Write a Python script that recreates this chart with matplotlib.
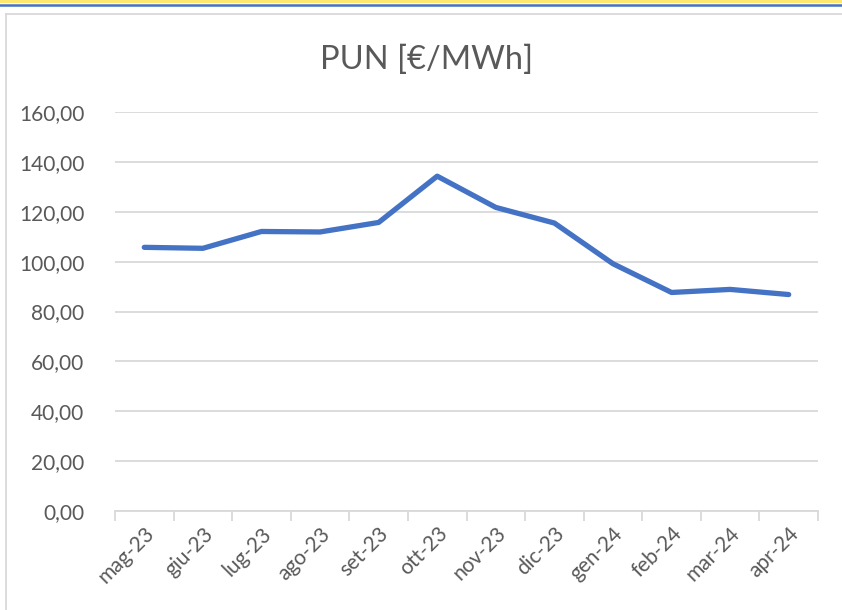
import matplotlib
matplotlib.use("Agg")
import matplotlib.pyplot as plt
from matplotlib.lines import Line2D

# ---- data ------------------------------------------------------------------
months = ["mag-23", "giu-23", "lug-23", "ago-23", "set-23", "ott-23",
          "nov-23", "dic-23", "gen-24", "feb-24", "mar-24", "apr-24"]
pun = [105.73, 105.34, 112.09, 111.89, 115.71, 134.27,
       121.74, 115.47, 99.16, 87.63, 88.86, 86.80]
yticks = [0, 20, 40, 60, 80, 100, 120, 140, 160]

# ---- style -----------------------------------------------------------------
LINE = "#4472C4"
GRID = "#D9D9D9"
TXT = "#595959"
plt.rcParams["font.family"] = ["Lato", "DejaVu Sans"]

W, H = 842, 610
fig = plt.figure(figsize=(W / 100, H / 100), dpi=100)
fig.patch.set_facecolor("white")

def fx(px):
    return px / W

def fy(py):
    return 1 - py / H

# decorative bands on top + chart frame
fig.add_artist(Line2D([0, 1], [fy(1), fy(1)], color="#FFE66E", lw=2.2))
fig.add_artist(Line2D([0, 1], [fy(5), fy(5)], color=LINE, lw=1.8))
fig.add_artist(Line2D([fx(6), 1], [fy(14), fy(14)], color="#D9D9D9", lw=1.3))
fig.add_artist(Line2D([fx(6), fx(6)], [fy(14), 0], color="#D9D9D9", lw=1.3))

ax = fig.add_axes([fx(115), fy(511), fx(818) - fx(115), fy(112) - fy(511)])
x = list(range(len(months)))
ax.plot(x, pun, color=LINE, lw=3.8, solid_capstyle="round",
        solid_joinstyle="round", zorder=3)

ax.set_xlim(-0.5, len(months) - 0.5)
ax.set_ylim(0, 160)
ax.set_yticks(yticks)
ax.set_yticklabels([f"{v:.2f}".replace(".", ",") for v in yticks],
                   fontsize=15, color=TXT)
ax.tick_params(axis="y", length=0, pad=22)
ax.yaxis.grid(True, color=GRID, lw=1.3)
ax.set_axisbelow(True)

# category labels at centres, tick marks at boundaries
ax.set_xticks(x)
ax.set_xticklabels(months, rotation=45, ha="right", rotation_mode="anchor",
                   fontsize=15, color=TXT)
ax.tick_params(axis="x", which="major", length=0, pad=9)
ax.set_xticks([i - 0.5 for i in range(len(months) + 1)], minor=True)
ax.tick_params(axis="x", which="minor", length=7, color=GRID, width=1.3)

for s in ("top", "right", "left"):
    ax.spines[s].set_visible(False)
ax.spines["bottom"].set_color(GRID)
ax.spines["bottom"].set_linewidth(1.3)

fig.text(fx(427), fy(60), "PUN [€/MWh]", ha="center", va="center",
         fontsize=23.5, color=TXT)

fig.savefig("out.png", dpi=100)
